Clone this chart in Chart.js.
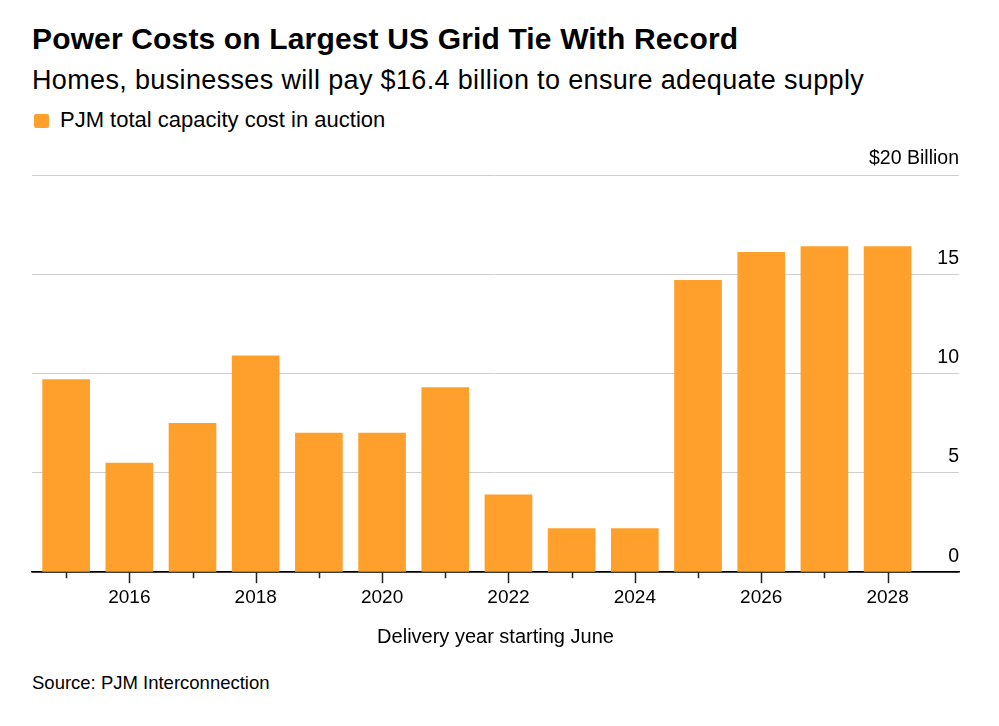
<!DOCTYPE html>
<html>
<head>
<meta charset="utf-8">
<script src="https://cdn.jsdelivr.net/npm/chart.js@4.4.1/dist/chart.umd.min.js"></script>
<style>
  body { margin: 0; background: #fff; font-family: "Liberation Sans", Arial, sans-serif; color: #000; }
  #wrap { position: relative; width: 999px; height: 726px; overflow: hidden; }
  .t { position: absolute; left: 32px; line-height: 1; white-space: nowrap; }
  #title { top: 24px; font-size: 30px; font-weight: bold; letter-spacing: 0.15px; }
  #subtitle { top: 67px; font-size: 27px; letter-spacing: 0.35px; }
  #swatch { position: absolute; left: 34px; top: 114px; width: 15px; height: 14px; background: #FFA02C; border-radius: 2px; }
  #legend { top: 109px; left: 60px; font-size: 22px; }
  #source { top: 674px; font-size: 18.5px; }
  #box { position: absolute; left: 0; top: 130px; width: 999px; height: 530px; }
</style>
</head>
<body>
<div id="wrap">
  <div class="t" id="title">Power Costs on Largest US Grid Tie With Record</div>
  <div class="t" id="subtitle">Homes, businesses will pay $16.4 billion to ensure adequate supply</div>
  <div id="swatch"></div>
  <div class="t" id="legend">PJM total capacity cost in auction</div>
  <div id="box"><canvas id="mychart"></canvas></div>
  <div class="t" id="source">Source: PJM Interconnection</div>
</div>
<script>
// Delivery years (starting June) and capacity cost, $ billion
const years = [2015, 2016, 2017, 2018, 2019, 2020, 2021, 2022, 2023, 2024, 2025, 2026, 2027, 2028];
const costs = [9.7, 5.5, 7.5, 10.9, 7.0, 7.0, 9.3, 3.9, 2.2, 2.2, 14.7, 16.1, 16.4, 16.4];
const yTicks = [0, 5, 10, 15, 20];

const orange = "#FFA02C";
const font = "'Liberation Sans', Arial, sans-serif";

// year tick marks: long on labelled (even) years, short otherwise
const yearTicks = {
  id: "yearTicks",
  afterDatasetsDraw(chart) {
    const x = chart.scales.x;
    const c = chart.ctx;
    const y0 = chart.chartArea.bottom;
    c.save();
    c.strokeStyle = "#222";
    c.lineWidth = 1.5;
    years.forEach((yr) => {
      const px = Math.round(x.getPixelForValue(yr)) + 0.5;
      c.beginPath();
      c.moveTo(px, y0);
      c.lineTo(px, y0 + (yr % 2 === 0 ? 11 : 6));
      c.stroke();
    });
    c.restore();
  },
};

const ctx = document.getElementById("mychart").getContext("2d");
const mychart = new Chart(ctx, {
  type: "bar",
  data: {
    datasets: [
      {
        label: "PJM total capacity cost in auction",
        data: years.map((yr, i) => ({ x: yr, y: costs[i] })),
        backgroundColor: orange,
        borderWidth: 0,
        barThickness: 47,
      },
    ],
  },
  options: {
    responsive: true,
    maintainAspectRatio: false,
    animation: false,
    layout: { padding: { top: 45, left: 32, right: 40, bottom: 11 } },
    plugins: {
      legend: { display: false },
      tooltip: { enabled: false },
    },
    scales: {
      x: {
        type: "linear",
        offset: false,
        min: 2014.46,
        max: 2029.13,
        grid: { display: false },
        border: { display: true, color: "#000", width: 1.5 },
        ticks: {
          stepSize: 1,
          includeBounds: false,
          autoSkip: false,
          maxRotation: 0,
          padding: 6,
          color: "#000",
          font: { family: font, size: 19 },
          callback: (v) => (Number.isInteger(v) && v % 2 === 0 ? String(v) : ""),
        },
        title: {
          display: true,
          text: "Delivery year starting June",
          color: "#000",
          font: { family: font, size: 20 },
          padding: { top: 10, bottom: 0 },
        },
      },
      y: {
        position: "right",
        min: 0,
        max: 20,
        border: { display: false },
        grid: {
          drawTicks: false,
          color: (c) => (c.tick.value === 0 ? "#000" : "#cfcfcf"),
          lineWidth: (c) => (c.tick.value === 0 ? 1.5 : 1),
        },
        afterBuildTicks: (scale) => {
          scale.ticks = yTicks.map((v) => ({ value: v }));
        },
        ticks: {
          mirror: true,
          padding: 0,
          labelOffset: -16,
          color: "#000",
          font: { family: font, size: 19.5 },
          callback: (v) => (v === 20 ? "$20 Billion" : String(v)),
        },
      },
    },
  },
  plugins: [yearTicks],
});
</script>
</body>
</html>
